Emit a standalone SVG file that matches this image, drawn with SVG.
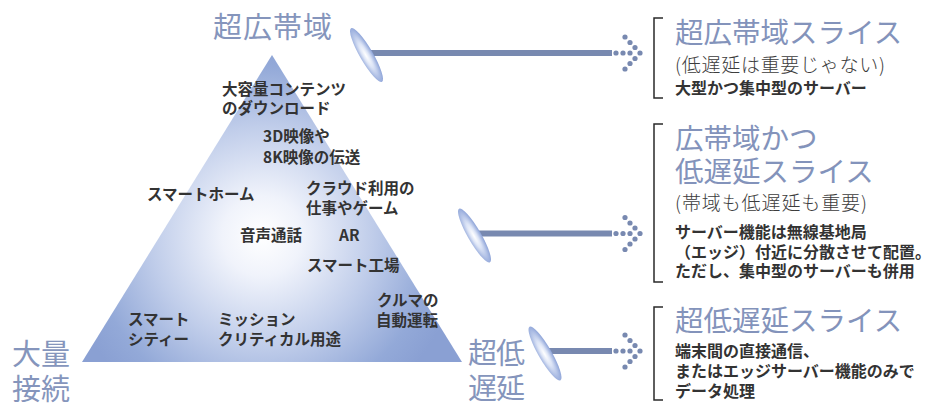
<svg xmlns="http://www.w3.org/2000/svg" width="930" height="418" viewBox="0 0 930 418">
<style>
text { font-family: "Noto Sans CJK JP", "Noto Sans", sans-serif; }
.big { font-size: 29px; fill: #8595bc; font-weight: 400; }
.title { font-size: 28.5px; fill: #8393bb; font-weight: 400; }
.sub { font-size: 19px; fill: #3c3c3c; font-weight: 300; }
.desc { font-size: 16px; font-weight: 700; fill: #333333; }
.tri { font-size: 15.5px; font-weight: 700; fill: #333333; }
.bracket { fill: none; stroke: #2a2a2a; stroke-width: 1.5; }
.bar { stroke: #7889b0; stroke-width: 6; }
.lens { fill: url(#lensGrad); }
</style>
<defs>
<radialGradient id="triGrad" gradientUnits="userSpaceOnUse" cx="262" cy="236" r="200">
<stop offset="0" stop-color="#ffffff"/>
<stop offset="0.2" stop-color="#f0f3fb"/>
<stop offset="0.55" stop-color="#c0cdea"/>
<stop offset="0.85" stop-color="#93a9d8"/>
<stop offset="1" stop-color="#8aa0d3"/>
</radialGradient>
<radialGradient id="lensGrad" cx="0.45" cy="0.5" r="0.55">
<stop offset="0" stop-color="#ffffff"/>
<stop offset="0.4" stop-color="#dce4f6"/>
<stop offset="1" stop-color="#8aa1d7"/>
</radialGradient>
<g id="dots" fill="#7889b0">
<circle cx="616" cy="0" r="2.6"/>
<circle cx="623" cy="0" r="2.6"/>
<circle cx="630" cy="0" r="2.6"/>
<circle cx="640" cy="0" r="2.6"/>
<circle cx="635" cy="-5.5" r="2.6"/>
<circle cx="630" cy="-10.5" r="2.6"/>
<circle cx="625" cy="-16" r="2.6"/>
<circle cx="635" cy="5.5" r="2.6"/>
<circle cx="630" cy="10.5" r="2.6"/>
<circle cx="625" cy="16" r="2.6"/>
</g>
</defs>

<g id="pyramid">
<polygon points="272,55 82,362 462,362" fill="url(#triGrad)"/>
<text class="tri" x="222" y="95">大容量コンテンツ</text>
<text class="tri" x="222" y="114">のダウンロード</text>
<text class="tri" x="263" y="142">3D映像や</text>
<text class="tri" x="263" y="163">8K映像の伝送</text>
<text class="tri" x="147" y="200">スマートホーム</text>
<text class="tri" x="306" y="194">クラウド利用の</text>
<text class="tri" x="306" y="214">仕事やゲーム</text>
<text class="tri" x="240" y="241">音声通話</text>
<text class="tri" x="339" y="241">AR</text>
<text class="tri" x="307" y="271">スマート工場</text>
<text class="tri" x="377" y="306">クルマの</text>
<text class="tri" x="376" y="326">自動運転</text>
<text class="tri" x="128" y="325">スマート</text>
<text class="tri" x="128" y="345">シティー</text>
<text class="tri" x="218" y="325">ミッション</text>
<text class="tri" x="218" y="345">クリティカル用途</text>
</g>

<g id="label-broadband">
<text class="big" x="213" y="38" font-size="30" textLength="119">超広帯域</text>
</g>
<g id="label-massive">
<text class="big" x="12" y="365" textLength="58">大量</text>
<text class="big" x="12" y="400" textLength="58">接続</text>
</g>
<g id="label-lowlatency">
<text class="big" x="468" y="364" textLength="57">超低</text>
<text class="big" x="468" y="399" textLength="57">遅延</text>
</g>

<g id="connectors">
<line class="bar" x1="366" y1="53" x2="612" y2="53"/>
<ellipse class="lens" cx="0" cy="0" rx="6.6" ry="31" transform="translate(366.5 55) rotate(-30)"/>
<use href="#dots" y="53"/>
<line class="bar" x1="475" y1="233.5" x2="612" y2="233.5"/>
<ellipse class="lens" cx="0" cy="0" rx="6.6" ry="31" transform="translate(474.5 235.5) rotate(-30)"/>
<use href="#dots" y="233.5"/>
<line class="bar" x1="545" y1="351" x2="612" y2="351"/>
<ellipse class="lens" cx="0" cy="0" rx="6.6" ry="31" transform="translate(545 353.5) rotate(-30)"/>
<use href="#dots" y="351"/>
</g>

<g id="slice-embb">
<path class="bracket" d="M663,18 H654 V98 H663"/>
<text class="title" x="675" y="43">超広帯域スライス</text>
<text class="sub" x="675" y="72" textLength="210">(低遅延は重要じゃない)</text>
<text class="desc" x="675" y="94">大型かつ集中型のサーバー</text>
</g>

<g id="slice-mid">
<path class="bracket" d="M663,124 H654 V282 H663"/>
<text class="title" x="675" y="149">広帯域かつ</text>
<text class="title" x="675" y="182">低遅延スライス</text>
<text class="sub" x="675" y="210" textLength="192">(帯域も低遅延も重要)</text>
<text class="desc" x="675" y="238">サーバー機能は無線基地局</text>
<text class="desc" x="675" y="258">（エッジ）付近に分散させて配置。</text>
<text class="desc" x="675" y="277">ただし、集中型のサーバーも併用</text>
</g>

<g id="slice-urllc">
<path class="bracket" d="M663,307 H654 V400 H663"/>
<text class="title" x="675" y="331">超低遅延スライス</text>
<text class="desc" x="675" y="357">端末間の直接通信、</text>
<text class="desc" x="675" y="377">またはエッジサーバー機能のみで</text>
<text class="desc" x="675" y="397">データ処理</text>
</g>
</svg>
